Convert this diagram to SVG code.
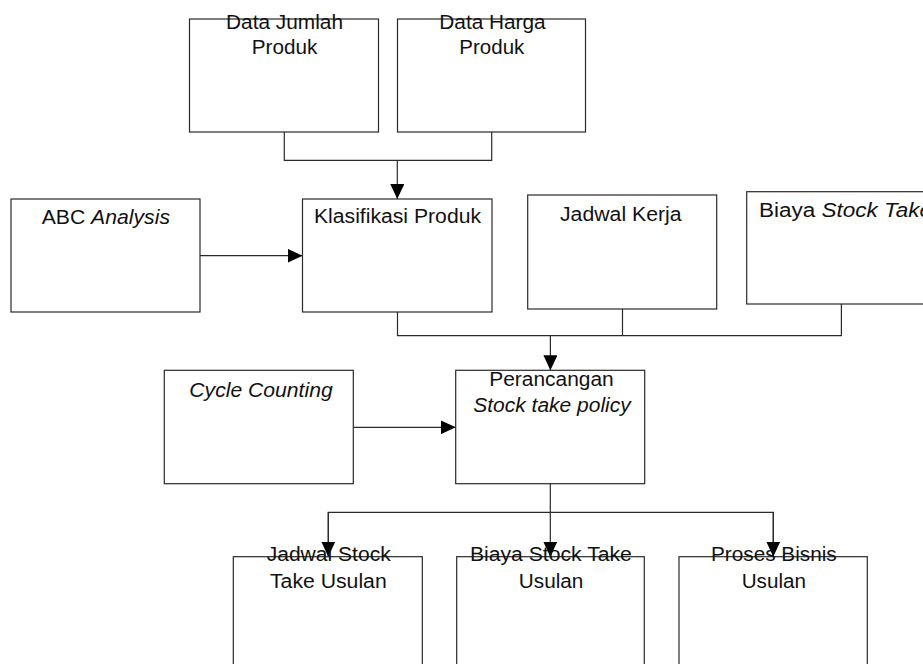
<svg xmlns="http://www.w3.org/2000/svg" width="923" height="664" viewBox="0 0 923 664">
<defs>
<style>
.box{fill:#fff;stroke:#2a2a2a;stroke-width:1.2}
.t{font-family:"Liberation Sans",Arial,sans-serif;font-size:20px;fill:#111}
.i{font-style:italic}
.c{fill:none;stroke:#2a2a2a;stroke-width:1.2}
</style>
<marker id="ah" markerUnits="userSpaceOnUse" markerWidth="15" markerHeight="14" refX="15" refY="7" orient="auto" viewBox="0 0 15 14">
<path d="M0,0 L15,7 L0,14 Z" fill="#000"/>
</marker>
</defs>
<rect width="923" height="664" fill="#fff"/>
<g id="connectors">
<path class="c" d="M284.3,132 V160.3 H491.7 V132"/>
<path class="c" d="M397.3,160.3 V199" marker-end="url(#ah)"/>
<path class="c" d="M200,255.7 H302.5" marker-end="url(#ah)"/>
<path class="c" d="M397.5,312 V335.7 H841.4 V304"/>
<path class="c" d="M622.5,309 V335.7"/>
<path class="c" d="M550.4,335.7 V370.3" marker-end="url(#ah)"/>
<path class="c" d="M353.3,427.3 H455.7" marker-end="url(#ah)"/>
<path class="c" d="M550.3,483.7 V556.7" marker-end="url(#ah)"/>
<path class="c" d="M328.3,556.7 V512.3 H773.3 V556.7"/>
<path class="c" d="M328.3,512.3 V556.7" marker-end="url(#ah)"/>
<path class="c" d="M773.3,512.3 V556.7" marker-end="url(#ah)"/>
</g>
<g id="data-jumlah">
<rect class="box" x="189.5" y="19" width="189" height="113"/>
<text class="t" x="226" y="28.5" textLength="117" lengthAdjust="spacingAndGlyphs">Data Jumlah</text>
<text class="t" x="251.7" y="54.3" textLength="65.6" lengthAdjust="spacingAndGlyphs">Produk</text>
</g>
<g id="data-harga">
<rect class="box" x="397.5" y="19" width="188" height="113"/>
<text class="t" x="439.3" y="28.5" textLength="106.4" lengthAdjust="spacingAndGlyphs">Data Harga</text>
<text class="t" x="459.3" y="54.3" textLength="65" lengthAdjust="spacingAndGlyphs">Produk</text>
</g>
<g id="abc-analysis">
<rect class="box" x="11" y="199" width="189" height="113"/>
<text class="t" x="41.7" y="224.3" textLength="128.3" lengthAdjust="spacingAndGlyphs">ABC <tspan class="i">Analysis</tspan></text>
</g>
<g id="klasifikasi-produk">
<rect class="box" x="302.5" y="199" width="189.5" height="113"/>
<text class="t" x="314" y="222.7" textLength="167" lengthAdjust="spacingAndGlyphs">Klasifikasi Produk</text>
</g>
<g id="jadwal-kerja">
<rect class="box" x="527.7" y="195" width="189" height="114"/>
<text class="t" x="560" y="220.8" textLength="121.6" lengthAdjust="spacingAndGlyphs">Jadwal Kerja</text>
</g>
<g id="biaya-stock-take">
<rect class="box" x="746.7" y="191.7" width="200" height="112.3"/>
<text class="t" x="759" y="216.7" textLength="173" lengthAdjust="spacingAndGlyphs">Biaya <tspan class="i">Stock Take</tspan></text>
</g>
<g id="cycle-counting">
<rect class="box" x="164.3" y="370.3" width="189" height="113.4"/>
<text class="t i" x="189.3" y="396.7" textLength="143.4" lengthAdjust="spacingAndGlyphs">Cycle Counting</text>
</g>
<g id="perancangan">
<rect class="box" x="455.7" y="370.3" width="189" height="113.4"/>
<text class="t" x="489.3" y="386" textLength="124.4" lengthAdjust="spacingAndGlyphs">Perancangan</text>
<text class="t i" x="473.3" y="411.7" textLength="157.4" lengthAdjust="spacingAndGlyphs">Stock take policy</text>
</g>
<g id="jadwal-stock-take-usulan">
<rect class="box" x="233.3" y="556.7" width="189" height="120"/>
<text class="t" x="266.7" y="561" textLength="124" lengthAdjust="spacingAndGlyphs">Jadwal Stock</text>
<text class="t" x="270" y="587.7" textLength="116.7" lengthAdjust="spacingAndGlyphs">Take Usulan</text>
</g>
<g id="biaya-stock-take-usulan">
<rect class="box" x="456.7" y="556.7" width="187.6" height="120"/>
<text class="t" x="469.9" y="561" textLength="162" lengthAdjust="spacingAndGlyphs">Biaya Stock Take</text>
<text class="t" x="518.8" y="587.7" textLength="64.6" lengthAdjust="spacingAndGlyphs">Usulan</text>
</g>
<g id="proses-bisnis-usulan">
<rect class="box" x="679" y="556.7" width="188.3" height="120"/>
<text class="t" x="711" y="561" textLength="125.7" lengthAdjust="spacingAndGlyphs">Proses Bisnis</text>
<text class="t" x="741.7" y="587.7" textLength="64.3" lengthAdjust="spacingAndGlyphs">Usulan</text>
</g>
</svg>
